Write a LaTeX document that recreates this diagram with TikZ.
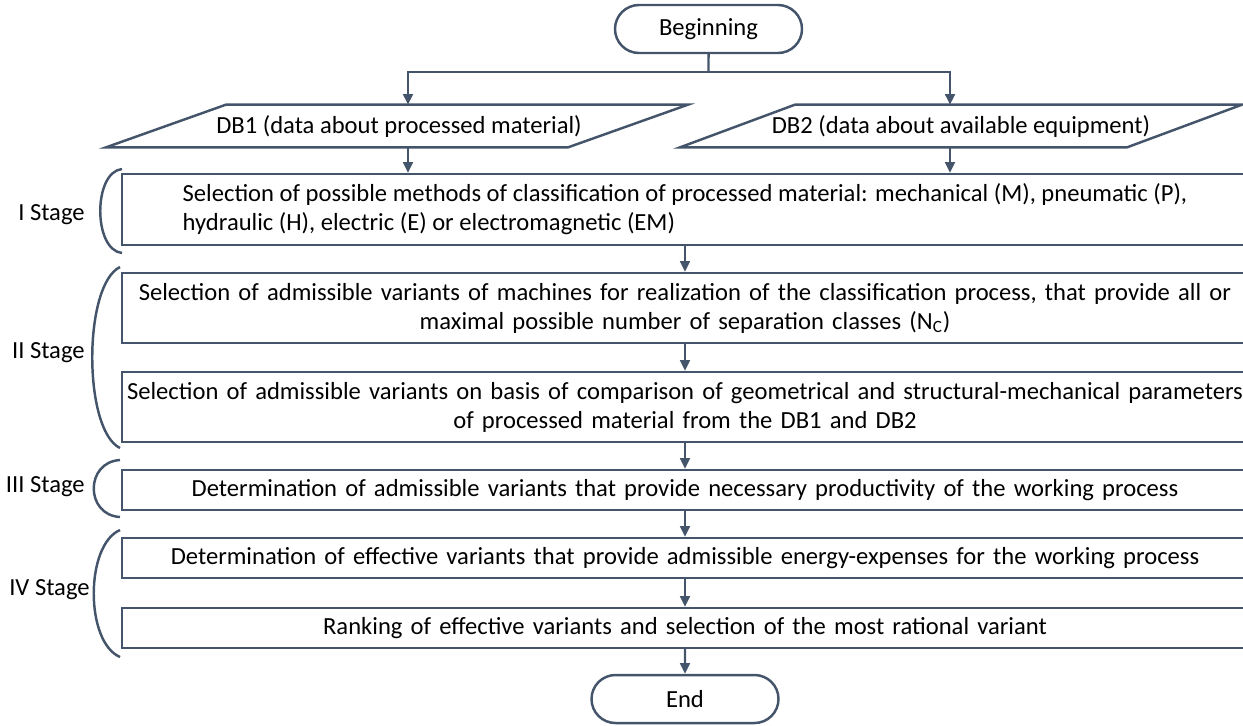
\documentclass[tikz,border=0pt]{standalone}
\usepackage{fontspec}
\setmainfont{Carlito}
\usetikzlibrary{positioning}
\usetikzlibrary{arrows.meta}
\usetikzlibrary{shapes.misc}

\definecolor{slate}{HTML}{44546A}
\newcommand{\pxl}{0.02cm}
\tikzset{
  every node/.style={font=\fontsize{14pt}{16.5pt}\selectfont, text=black},
  flowline/.style={draw=slate, line width=1.4pt},
  arr/.style={flowline, -{Triangle[length=6pt,width=5.5pt]}},
  termbox/.style={draw=slate, line width=1.4pt, rounded rectangle,
    minimum width=187*\pxl, minimum height=48*\pxl, inner sep=0pt},
  stagebox/.style={draw=slate, line width=1.4pt, inner xsep=0pt, inner ysep=2pt,
    minimum width=1126*\pxl},
  fixbox/.style={stagebox, text width=1126*\pxl, align=center},
  stagelabel/.style={anchor=east, inner sep=0pt},
}

\begin{document}
\begin{tikzpicture}[x=\pxl, y=-\pxl]
\useasboundingbox (0,0) rectangle (1243,725);

% start / end
\node[termbox] (beg) at (708.5,29) {Beginning};
\node[termbox] (end) at (685,699) {End};

% input data
\node[minimum height=42*\pxl, inner sep=0pt] (db1) at (399,126) {DB1 (data about processed material)};
\draw[flowline] ([xshift=-293*\pxl]db1.south) -- ([xshift=-173*\pxl]db1.north)
  -- ([xshift=289*\pxl]db1.north) -- ([xshift=169*\pxl]db1.south) -- cycle;
\node[minimum height=42*\pxl, inner sep=0pt] (db2) at (961,126) {DB2 (data about available equipment)};
\draw[flowline] ([xshift=-281*\pxl]db2.south) -- ([xshift=-166*\pxl]db2.north)
  -- ([xshift=281*\pxl]db2.north) -- ([xshift=166*\pxl]db2.south) -- cycle;

% stages
\node[stagebox, minimum height=71*\pxl, align=left] (s1) at (685,209.5)
  {Selection of possible methods of classification of processed material: mechanical (M), pneumatic (P),\\
   hydraulic (H), electric (E) or electromagnetic (EM)};
\node[fixbox, minimum height=70*\pxl] (s2a) at (685,308)
  {Selection of admissible variants of machines for realization of the classification process, that provide all or\\
   maximal possible number of separation classes (N\textsubscript{C})};
\node[fixbox, minimum height=70*\pxl] (s2b) at (685,407)
  {Selection of admissible variants on basis of comparison of geometrical and structural-mechanical parameters\\
   of processed material from the DB1 and DB2};
\node[fixbox, minimum height=40*\pxl] (s3) at (685,490)
  {Determination of admissible variants that provide necessary productivity of the working process};
\node[fixbox, minimum height=40*\pxl] (s4a) at (685,558)
  {Determination of effective variants that provide admissible energy-expenses for the working process};
\node[fixbox, minimum height=40*\pxl] (s4b) at (685,628)
  {Ranking of effective variants and selection of the most rational variant};

% stage labels and brackets
\node[stagelabel] (st1) at (85,215) {I Stage};
\node[stagelabel] (st2) at (85,353) {II Stage};
\node[stagelabel] (st3) at (85,487) {III Stage};
\node[stagelabel] (st4) at (90,590) {IV Stage};
\draw[flowline] (122,169) .. controls (93,172) and (93,250) .. (122,253);
\draw[flowline] (120,267) .. controls (83,285) and (83,430) .. (120,448);
\draw[flowline] (120,460) .. controls (85,462) and (85,515) .. (120,517);
\draw[flowline] (120,530) .. controls (85,545) and (85,642) .. (120,657);

% connectors
\coordinate (fork) at (708.5,72);
\draw[flowline] (beg) -- (fork);
\draw[arr] (fork) -| ([xshift=9*\pxl]db1.north);
\draw[arr] (fork) -| ([xshift=-11*\pxl]db2.north);
\draw[arr] ([xshift=9*\pxl]db1.south) -- ([xshift=9*\pxl]db1.south |- s1.north);
\draw[arr] ([xshift=-11*\pxl]db2.south) -- ([xshift=-11*\pxl]db2.south |- s1.north);
\draw[arr] (s1) -- (s2a);
\draw[arr] (s2a) -- (s2b);
\draw[arr] (s2b) -- (s3);
\draw[arr] (s3) -- (s4a);
\draw[arr] (s4a) -- (s4b);
\draw[arr] (s4b) -- (end);
\end{tikzpicture}
\end{document}
